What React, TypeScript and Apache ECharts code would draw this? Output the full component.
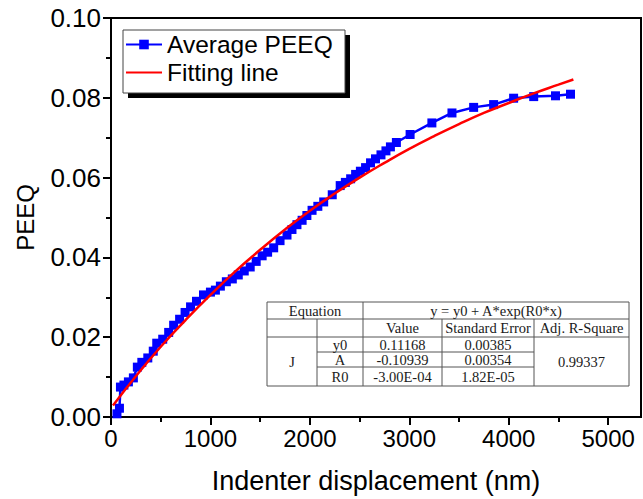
import React, { useEffect, useRef } from "react";
import * as echarts from "echarts";

// ---- data ----
const peeqDisp = [60, 85, 95, 130, 175, 225, 265, 310, 370, 425, 460, 520, 580, 630, 690, 745, 800, 860, 930, 1000, 1050, 1100, 1160, 1220, 1280, 1340, 1400, 1460, 1520, 1575, 1636, 1700, 1770, 1820, 1870, 1922, 1970, 2022, 2080, 2139, 2225, 2305, 2357, 2410, 2460, 2508, 2560, 2610, 2660, 2715, 2765, 2810, 2870, 3008, 3227, 3429, 3647, 3848, 4049, 4251, 4470, 4621];
const peeqValue = [0.0008, 0.0022, 0.0075, 0.008, 0.0088, 0.0098, 0.0125, 0.0137, 0.0148, 0.0165, 0.0185, 0.0195, 0.0212, 0.023, 0.0245, 0.0262, 0.0276, 0.029, 0.0306, 0.0313, 0.0318, 0.0328, 0.0339, 0.0346, 0.0356, 0.0366, 0.0376, 0.039, 0.0404, 0.0413, 0.0424, 0.0442, 0.0456, 0.047, 0.0482, 0.0493, 0.0505, 0.0518, 0.0528, 0.0539, 0.0557, 0.058, 0.0588, 0.0597, 0.0608, 0.0616, 0.0625, 0.0637, 0.0647, 0.0657, 0.0667, 0.0677, 0.0688, 0.0708, 0.0737, 0.0762, 0.0776, 0.0783, 0.0799, 0.0803, 0.0805, 0.0809];

const fitDisp = [20, 250, 500, 750, 1000, 1250, 1500, 1750, 2000, 2250, 2500, 2750, 3000, 3250, 3500, 3750, 4000, 4250, 4500, 4650];
const fitValue = [0.0029, 0.0102, 0.0176, 0.0243, 0.0306, 0.0365, 0.0419, 0.047, 0.0517, 0.056, 0.06, 0.0637, 0.0672, 0.0704, 0.0734, 0.0762, 0.0787, 0.0811, 0.0833, 0.0846];

const xTickValues = [0, 1000, 2000, 3000, 4000, 5000];
const xMinorTickValues = [500, 1500, 2500, 3500, 4500];
const yTickValues = [0, 0.02, 0.04, 0.06, 0.08, 0.1];
const yMinorTickValues = [0.01, 0.03, 0.05, 0.07, 0.09];
const xMax = 5330;

const legendNames = ["Average PEEQ", "Fitting line"];
const xTitle = "Indenter displacement (nm)";
const yTitle = "PEEQ";

// fit table texts
const tableEquationLabel = "Equation";
const tableFormula = "y = y0 + A*exp(R0*x)";
const tableHeader = ["Value", "Standard Error", "Adj. R-Square"];
const tableGroup = "J";
const tableParams = ["y0", "A", "R0"];
const tableValues = ["0.11168", "-0.10939", "-3.00E-04"];
const tableErrors = ["0.00385", "0.00354", "1.82E-05"];
const tableAdjR2 = "0.99337";

const SANS = "'Liberation Sans', Arial, Helvetica, sans-serif";
const SERIF = "'Liberation Serif', 'Times New Roman', serif";

function buildTable() {
  const c = [267, 317, 363, 442, 534, 629];
  const r = [302, 319, 337, 352, 367, 386];
  const lc = "#555";
  const els: any[] = [];
  const hl = (x1: number, x2: number, y: number) =>
    els.push({ type: "line", z: 20, shape: { x1, y1: y, x2, y2: y }, style: { stroke: lc, lineWidth: 1 } });
  const vl = (x: number, y1: number, y2: number) =>
    els.push({ type: "line", z: 20, shape: { x1: x, y1, x2: x, y2 }, style: { stroke: lc, lineWidth: 1 } });
  els.push({ type: "rect", z: 19, shape: { x: c[0], y: r[0], width: c[5] - c[0], height: r[5] - r[0] }, style: { fill: "#fff" } });
  hl(c[0], c[5], r[0]);
  hl(c[0], c[5], r[1]);
  hl(c[0], c[5], r[2]);
  hl(c[1], c[4], r[3]);
  hl(c[1], c[4], r[4]);
  hl(c[0], c[5], r[5]);
  vl(c[0], r[0], r[5]);
  vl(c[1], r[1], r[5]);
  vl(c[2], r[0], r[5]);
  vl(c[3], r[1], r[5]);
  vl(c[4], r[1], r[5]);
  vl(c[5], r[0], r[5]);
  const t = (text: string, x: number, y: number) =>
    els.push({
      type: "text", z: 21, x, y,
      style: { text, fill: "#1a1a1a", font: `14.5px ${SERIF}`, align: "center", verticalAlign: "middle" },
    });
  t(tableEquationLabel, (c[0] + c[2]) / 2, (r[0] + r[1]) / 2);
  t(tableFormula, (c[2] + c[5]) / 2, (r[0] + r[1]) / 2);
  t(tableHeader[0], (c[2] + c[3]) / 2, (r[1] + r[2]) / 2);
  t(tableHeader[1], (c[3] + c[4]) / 2, (r[1] + r[2]) / 2);
  t(tableHeader[2], (c[4] + c[5]) / 2, (r[1] + r[2]) / 2);
  t(tableGroup, (c[0] + c[1]) / 2, (r[2] + r[5]) / 2);
  t(tableAdjR2, (c[4] + c[5]) / 2, (r[2] + r[5]) / 2);
  for (let i = 0; i < 3; i++) {
    const yc = (r[2 + i] + r[3 + i]) / 2;
    t(tableParams[i], (c[1] + c[2]) / 2, yc);
    t(tableValues[i], (c[2] + c[3]) / 2, yc);
    t(tableErrors[i], (c[3] + c[4]) / 2, yc);
  }
  return els;
}

export default function App() {
  const ref = useRef<HTMLDivElement>(null);
  useEffect(() => {
    document.body.style.margin = "0";
    if (!ref.current) return;
    const chart = echarts.init(ref.current, undefined, { renderer: "svg" });
    const axisLine = { show: true, lineStyle: { color: "#000", width: 2 } };
    chart.setOption({
      animation: false,
      backgroundColor: "#fff",
      grid: { left: 111, top: 18, right: 2, bottom: 81, show: true, borderColor: "#000", borderWidth: 2, backgroundColor: "transparent" },
      legend: {
        data: [
          { name: legendNames[0] },
          { name: legendNames[1], itemStyle: { color: "rgba(0,0,0,0)", borderColor: "rgba(0,0,0,0)", borderWidth: 0, opacity: 0 } },
        ],
        orient: "vertical",
        left: 123,
        top: 30,
        padding: [2, 0, 0, 2],
        itemGap: 3,
        itemWidth: 36,
        itemHeight: 12,
        selectedMode: false,
        z: 12,
        textStyle: { fontSize: 24.5, color: "#000", fontFamily: SANS },
      },
      xAxis: [
        {
          type: "value", min: 0, max: xMax, interval: 1000,
          name: xTitle, nameLocation: "middle", nameGap: 50,
          nameTextStyle: { fontSize: 27, color: "#000", fontFamily: SANS },
          axisLine,
          axisTick: { show: true, length: 8, inside: false, customValues: xTickValues, lineStyle: { color: "#000", width: 2 } },
          axisLabel: { customValues: xTickValues, fontSize: 24, color: "#000", fontFamily: SANS, margin: 9, formatter: (v: number) => String(v) },
          splitLine: { show: false },
        },
        {
          type: "value", min: 0, max: xMax, position: "bottom",
          axisLine: { show: false },
          axisTick: { show: true, length: 5, customValues: xMinorTickValues, lineStyle: { color: "#000", width: 2 } },
          axisLabel: { show: false },
          splitLine: { show: false },
        },
      ],
      yAxis: [
        {
          type: "value", min: 0, max: 0.1, interval: 0.02,
          name: yTitle, nameLocation: "middle", nameGap: 74, nameRotate: 90,
          nameTextStyle: { fontSize: 24, color: "#000", fontFamily: SANS },
          axisLine,
          axisTick: { show: true, length: 8, customValues: yTickValues, lineStyle: { color: "#000", width: 2 } },
          axisLabel: { customValues: yTickValues, fontSize: 26, color: "#000", fontFamily: SANS, margin: 10, formatter: (v: number) => v.toFixed(2) },
          splitLine: { show: false },
        },
        {
          type: "value", min: 0, max: 0.1, position: "left",
          axisLine: { show: false },
          axisTick: { show: true, length: 5, customValues: yMinorTickValues, lineStyle: { color: "#000", width: 2 } },
          axisLabel: { show: false },
          splitLine: { show: false },
        },
      ],
      graphic: [
        { type: "rect", z: 5, shape: { x: 128, y: 35, width: 222, height: 63 }, style: { fill: "#000" } },
        { type: "rect", z: 6, shape: { x: 123, y: 30, width: 222, height: 63 }, style: { fill: "#fff", stroke: "#444", lineWidth: 1 } },
        ...buildTable(),
      ],
      series: [
        {
          name: legendNames[0],
          type: "line",
          data: peeqDisp.map((x, i) => [x, peeqValue[i]]),
          symbol: "rect",
          symbolSize: 9,
          showAllSymbol: true,
          lineStyle: { color: "#0000ff", width: 2.5 },
          itemStyle: { color: "#0000ff" },
          z: 3,
        },
        {
          name: legendNames[1],
          type: "line",
          data: fitDisp.map((x, i) => [x, fitValue[i]]),
          smooth: true,
          showSymbol: false,
          lineStyle: { color: "#ff0000", width: 2.5 },
          itemStyle: { color: "#ff0000" },
          z: 4,
        },
      ],
    });
    return () => chart.dispose();
  }, []);
  return <div ref={ref} style={{ width: 643, height: 499 }} />;
}
